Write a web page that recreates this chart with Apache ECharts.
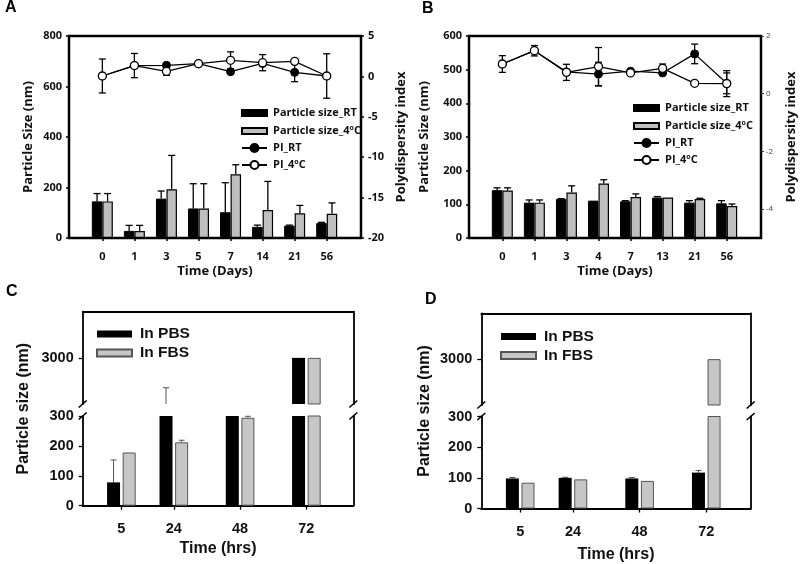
<!DOCTYPE html>
<html><head><meta charset="utf-8">
<script src="https://cdn.jsdelivr.net/npm/echarts@6/dist/echarts.min.js"></script>
<style>html,body{margin:0;padding:0;background:#fff}#c{width:800px;height:564px}</style>
</head><body><div id="c"></div>
<script>
// ---------- data ----------
const daysA = ['0', '1', '3', '5', '7', '14', '21', '56'];
const sizeRtA = [145, 28, 156, 117, 102, 44, 49, 59];
const sizeRtErrA = [31, 22, 30, 98, 117, 7, 2, 3];
const size4cA = [145, 28, 193, 117, 252, 111, 98, 96];
const size4cErrA = [31, 22, 134, 98, 38, 113, 31, 43];
const piRtA = [0.05, 1.34, 1.37, 1.57, 0.59, 1.6, 0.5, 0.05];
const piRtErrA = [0, 0, 0.3, 0, 0, 0, 1.15, 0];
const pi4cA = [0.05, 1.34, 0.63, 1.57, 1.99, 1.7, 1.86, 0.05];
const pi4cErrA = [2.1, 1.5, 0.5, 0, 1.05, 1.0, 0, 2.75];

const daysB = ['0', '1', '3', '4', '7', '13', '21', '56'];
const sizeRtB = [142, 105, 116, 111, 109, 120, 105, 103];
const sizeRtErrB = [7, 8, 1, 0, 2, 3, 6, 8];
const size4cB = [141, 105, 135, 162, 122, 120, 116, 95];
const size4cErrB = [8, 8, 20, 11, 9, 0, 2, 6];
const piRtB = [1.03, 1.49, 0.76, 0.68, 0.78, 0.72, 1.38, 0.36];
const piRtErrB = [0, 0, 0, 0.41, 0, 0, 0.34, 0.36];
const pi4cB = [1.03, 1.49, 0.74, 0.94, 0.72, 0.88, 0.36, 0.35];
const pi4cErrB = [0.29, 0.18, 0.28, 0.66, 0, 0.15, 0, 0.45];

const hours = [5, 24, 48, 72];
const pbsC = [78, 300, 300, 3000];
const pbsErrC = [75, 2053, 0, 0];
const fbsC = [178, 212, 294, 3000];
const fbsErrC = [0, 7, 5, 0];
const pbsD = [98, 100, 98, 117];
const pbsErrD = [3, 2, 3, 7];
const fbsD = [84, 95, 90, 3000];
const fbsErrD = [0, 0, 0, 0];

const ticksAB = [0, 1, 2, 3, 4, 5, 6, 7];

// ---------- styling ----------
const FAB = 'Open Sans';
const FCD = 'Liberation Sans';
const GRAY_AB = '#bfbfbf';
const GRAY_CD = '#c6c6c6';
const BW_AB = 10.5;   // bar width px (A,B)
const BW_CD = 13;     // bar width px (C,D)
const GAP_CD = 0.2;   // barGap fraction (C,D)

function pairs(vals) { return vals.map((v, i) => [i, v]); }
function trip(vals, errs) { return vals.map((v, i) => [i, v, errs[i]]); }
function xPairs(xs, vals) { return vals.map((v, i) => [xs[i], v]); }
function xTrip(xs, vals, errs) { return vals.map((v, i) => [xs[i], v, errs[i]]); }

const EMPTY = () => ({ type: 'group', children: [] });
function errRender(off, capW, color, lw, both, lo, hi) {
  return function (params, api) {
    const x = api.value(0), v = api.value(1), e = api.value(2);
    if (!e) return EMPTY();
    const top = v + e;
    if (top > hi || top < lo) return EMPTY();
    const start = both ? v - e : Math.max(v, lo);
    const pT = api.coord([x, top]);
    const pB = api.coord([x, start]);
    const cx = pT[0] + off;
    const st = { stroke: color, lineWidth: lw };
    const ch = [
      { type: 'line', shape: { x1: cx, y1: pB[1], x2: cx, y2: pT[1] }, style: st },
      { type: 'line', shape: { x1: cx - capW / 2, y1: pT[1], x2: cx + capW / 2, y2: pT[1] }, style: st }
    ];
    if (both) ch.push({ type: 'line', shape: { x1: cx - capW / 2, y1: pB[1], x2: cx + capW / 2, y2: pB[1] }, style: st });
    return { type: 'group', children: ch };
  };
}

function supFmt(name) { return name.replace('4oC', '4{sup|o}C'); }
const supRich = (font, size) => ({ sup: { fontFamily: font, fontWeight: 'bold', fontSize: size, verticalAlign: 'top', padding: [0, 0, 5, 0], color: '#111' } });

function abX(grid, cats) {
  return {
    gridIndex: grid, type: 'value', min: -1.04, max: 8.07,
    axisLine: { show: false, onZero: false }, splitLine: { show: false },
    axisTick: { show: true, customValues: ticksAB, length: 3, lineStyle: { color: '#000', width: 1.5 } },
    axisLabel: { customValues: ticksAB, formatter: v => cats[Math.round(v)], margin: 13, fontFamily: FAB, fontWeight: 'bold', fontSize: 11, color: '#111' },
    name: 'Time (Days)', nameLocation: 'middle', nameGap: 27,
    nameTextStyle: { fontFamily: FAB, fontWeight: 'bold', fontSize: 13, color: '#111' }
  };
}
function abY(grid, pos, min, max, extra) {
  return Object.assign({
    gridIndex: grid, type: 'value', position: pos, min: min, max: max,
    axisLine: { show: false, onZero: false }, splitLine: { show: false },
    axisTick: { show: true, length: 3, lineStyle: { color: '#000', width: 1.5 } },
    axisLabel: { margin: 7, fontFamily: FAB, fontWeight: 'bold', fontSize: 11, color: '#111' },
    nameLocation: 'middle', nameRotate: 90,
    nameTextStyle: { fontFamily: FAB, fontWeight: 'bold', fontSize: 13, color: '#111' }
  }, extra);
}

function abSeries(p, xi, yl, yr, rt, rtE, c4, c4E, piR, piRE, pi4, pi4E, yMax) {
  const lo = 0;
  return [
    { name: 'Particle size_RT', type: 'bar', xAxisIndex: xi, yAxisIndex: yl, data: pairs(rt), barWidth: BW_AB, barGap: '0%', z: 2,
      itemStyle: { color: '#000', borderColor: '#000', borderWidth: 1 } },
    { name: 'Particle size_4oC', type: 'bar', xAxisIndex: xi, yAxisIndex: yl, data: pairs(c4), barWidth: BW_AB, barGap: '0%', z: 2,
      itemStyle: { color: GRAY_AB, borderColor: '#000', borderWidth: 1.2 } },
    { name: p + 'errRt', type: 'custom', xAxisIndex: xi, yAxisIndex: yl, data: trip(rt, rtE), encode: { x: 0, y: 1 }, z: 1,
      renderItem: errRender(-BW_AB / 2, 7, '#000', 1.3, false, lo, yMax) },
    { name: p + 'err4c', type: 'custom', xAxisIndex: xi, yAxisIndex: yl, data: trip(c4, c4E), encode: { x: 0, y: 1 }, z: 1,
      renderItem: errRender(BW_AB / 2, 7, '#000', 1.3, false, lo, yMax) },
    { name: p + 'errPiRt', type: 'custom', xAxisIndex: xi, yAxisIndex: yr, data: trip(piR, piRE), encode: { x: 0, y: 1 }, z: 3,
      renderItem: errRender(0, 7, '#000', 1.3, true, -100, 100) },
    { name: p + 'errPi4c', type: 'custom', xAxisIndex: xi, yAxisIndex: yr, data: trip(pi4, pi4E), encode: { x: 0, y: 1 }, z: 3,
      renderItem: errRender(0, 7, '#000', 1.3, true, -100, 100) },
    { name: 'PI_RT', type: 'line', xAxisIndex: xi, yAxisIndex: yr, data: pairs(piR), symbol: 'circle', symbolSize: 8, z: 4,
      lineStyle: { color: '#000', width: 1.3 }, itemStyle: { color: '#000', borderColor: '#000', borderWidth: 1 } },
    { name: 'PI_4oC', type: 'line', xAxisIndex: xi, yAxisIndex: yr, data: pairs(pi4), symbol: 'circle', symbolSize: 8, z: 5,
      lineStyle: { color: '#000', width: 1.3 }, itemStyle: { color: '#fff', borderColor: '#000', borderWidth: 1.3 } }
  ];
}

function cdAxes(gU, gL, xmin, xmax, nameGap) {
  const line = { show: true, onZero: false, lineStyle: { color: '#000', width: 1.8 } };
  const lbl = { fontFamily: FCD, fontWeight: 'bold', fontSize: 14.5, color: '#111', formatter: v => String(v) };
  const x = [
    { gridIndex: gU, type: 'value', position: 'top', min: xmin, max: xmax, axisLine: line, axisTick: { show: false }, axisLabel: { show: false }, splitLine: { show: false } },
    { gridIndex: gL, type: 'value', position: 'bottom', min: xmin, max: xmax, axisLine: line, splitLine: { show: false },
      axisTick: { show: true, customValues: hours, length: 4, lineStyle: { color: '#000', width: 1.3 } },
      axisLabel: Object.assign({ customValues: hours, margin: 16 }, lbl),
      name: 'Time (hrs)', nameLocation: 'middle', nameGap: nameGap,
      nameTextStyle: { fontFamily: FCD, fontWeight: 'bold', fontSize: 16, color: '#111' } }
  ];
  const y = [
    { gridIndex: gU, type: 'value', position: 'left', min: 2000, max: 4000, axisLine: line, splitLine: { show: false },
      axisTick: { show: true, customValues: [3000], length: 4, lineStyle: { color: '#000', width: 1.3 } },
      axisLabel: Object.assign({ customValues: [3000], margin: 9 }, lbl) },
    { gridIndex: gU, type: 'value', position: 'right', min: 0, max: 1, axisLine: line, axisTick: { show: false }, axisLabel: { show: false }, splitLine: { show: false } },
    { gridIndex: gL, type: 'value', position: 'left', min: 0, max: 300, interval: 100, axisLine: line, splitLine: { show: false },
      axisTick: { show: true, length: 4, lineStyle: { color: '#000', width: 1.3 } },
      axisLabel: Object.assign({ margin: 9 }, lbl) },
    { gridIndex: gL, type: 'value', position: 'right', min: 0, max: 1, axisLine: line, axisTick: { show: false }, axisLabel: { show: false }, splitLine: { show: false } }
  ];
  return { x, y };
}

function cdSeries(p, xU, yU, xL, yL, pbs, pbsE, fbs, fbsE) {
  const total = BW_CD * (2 + GAP_CD);
  const offP = -total / 2 + BW_CD / 2, offF = total / 2 - BW_CD / 2;
  const out = [];
  [[xU, yU, 2000, 4000], [xL, yL, 0, 300]].forEach(([xi, yi, lo, hi], k) => {
    out.push(
      { name: 'In PBS', type: 'bar', xAxisIndex: xi, yAxisIndex: yi, data: xPairs(hours, pbs), barWidth: BW_CD, barGap: (GAP_CD * 100) + '%', clip: true, z: 2,
        itemStyle: { color: '#000', borderColor: '#000', borderWidth: 0 } },
      { name: 'In FBS', type: 'bar', xAxisIndex: xi, yAxisIndex: yi, data: xPairs(hours, fbs), barWidth: BW_CD, barGap: (GAP_CD * 100) + '%', clip: true, z: 2,
        itemStyle: { color: GRAY_CD, borderColor: '#555', borderWidth: 1 } },
      { name: p + 'eP' + k, type: 'custom', xAxisIndex: xi, yAxisIndex: yi, data: xTrip(hours, pbs, pbsE), encode: { x: 0, y: 1 }, z: 1,
        renderItem: errRender(offP, 6, '#555', 1, false, lo, hi) },
      { name: p + 'eF' + k, type: 'custom', xAxisIndex: xi, yAxisIndex: yi, data: xTrip(hours, fbs, fbsE), encode: { x: 0, y: 1 }, z: 1,
        renderItem: errRender(offF, 6, '#555', 1, false, lo, hi) }
    );
  });
  return out;
}

const cAx = cdAxes(2, 3, -9, 89, 35);
const dAx = cdAxes(4, 5, -9, 88, 38);

const letter = (t, l, tp) => ({ text: t, left: l, top: tp, padding: 0, textStyle: { fontFamily: FCD, fontWeight: 'bold', fontSize: 16, color: '#000' } });

const legAB = (left, top, names, ih, gap) => ({
  orient: 'vertical', left: left, top: top, padding: 0, data: names, itemWidth: 25, itemHeight: ih, itemGap: gap, icon: names[0].startsWith('PI') ? undefined : 'rect',
  selectedMode: false, formatter: supFmt,
  textStyle: { fontFamily: FAB, fontWeight: 'bold', fontSize: 11, color: '#111', lineHeight: 14, padding: [0, 0, 0, 1], rich: supRich(FAB, 7) }
});
const legCD = (left, top) => ({
  orient: 'vertical', left: left, top: top, padding: 0, data: ['In PBS', 'In FBS'], itemWidth: 35, itemHeight: 7, itemGap: 1, icon: 'rect',
  selectedMode: false,
  textStyle: { fontFamily: FCD, fontWeight: 'bold', fontSize: 15.5, color: '#111', lineHeight: 18, padding: [0, 0, 0, 3] }
});

const option = {
  animation: false,
  backgroundColor: '#fff',
  title: [letter('A', 5, 0), letter('B', 422, 1), letter('C', 6, 284), letter('D', 425, 292)],
  grid: [
    { left: 69, top: 36, width: 292, height: 202, show: true, borderColor: '#000', borderWidth: 2.5, backgroundColor: 'transparent' },
    { left: 469, top: 36, width: 292, height: 202, show: true, borderColor: '#000', borderWidth: 2.5, backgroundColor: 'transparent' },
    { left: 82.7, top: 311.7, width: 270.6, height: 92.3 },
    { left: 82.7, top: 416, width: 270.6, height: 89.7 },
    { left: 481.3, top: 313.3, width: 269.4, height: 91.7 },
    { left: 481.3, top: 416.5, width: 269.4, height: 92 }
  ],
  xAxis: [abX(0, daysA), abX(1, daysB)].concat(cAx.x, dAx.x),
  yAxis: [
    abY(0, 'left', 0, 800, { interval: 200, name: 'Particle Size (nm)', nameGap: 34 }),
    abY(0, 'right', -20, 5, { interval: 5, name: 'Polydispersity index', nameGap: 34 }),
    abY(1, 'left', 0, 600, { interval: 100, name: 'Particle Size (nm)', nameGap: 38 }),
    abY(1, 'right', -5, 2, {
      name: 'Polydispersity index', nameGap: 24,
      axisTick: { show: true, customValues: [-4, -2, 0, 2], length: 3, lineStyle: { color: '#333', width: 1 } },
      axisLabel: { customValues: [-4, -2, 0, 2], margin: 5, fontFamily: FAB, fontSize: 8, color: '#444' }
    })
  ].concat(cAx.y, dAx.y),
  legend: [
    legAB(241, 106, ['Particle size_RT', 'Particle size_4oC'], 6, 4),
    legAB(241, 141, ['PI_RT', 'PI_4oC'], 10, 3),
    legAB(633, 101, ['Particle size_RT', 'Particle size_4oC'], 6, 4),
    legAB(633, 136, ['PI_RT', 'PI_4oC'], 10, 3),
    legCD(96, 325),
    legCD(500, 327.5)
  ],
  series: [].concat(
    abSeries('A', 0, 0, 1, sizeRtA, sizeRtErrA, size4cA, size4cErrA, piRtA, piRtErrA, pi4cA, pi4cErrA, 800),
    abSeries('B', 1, 2, 3, sizeRtB, sizeRtErrB, size4cB, size4cErrB, piRtB, piRtErrB, pi4cB, pi4cErrB, 600),
    cdSeries('C', 2, 4, 3, 6, pbsC, pbsErrC, fbsC, fbsErrC),
    cdSeries('D', 4, 8, 5, 10, pbsD, pbsErrD, fbsD, fbsErrD)
  )
};

const chart = echarts.init(document.getElementById('c'));
chart.setOption(option);

// axis-break marks and rotated y titles for C and D, positioned from the axes
function breakMarks(xU, yU, xL, yL, xmin, xmax) {
  const els = [];
  [xmin, xmax].forEach(xv => {
    const a = chart.convertToPixel({ xAxisIndex: xU, yAxisIndex: yU }, [xv, 2000]);
    const b = chart.convertToPixel({ xAxisIndex: xL, yAxisIndex: yL }, [xv, 300]);
    [a, b].forEach(p => {
      els.push({ type: 'line', shape: { x1: p[0] - 4, y1: p[1] + 3.5, x2: p[0] + 4, y2: p[1] - 3.5 }, style: { stroke: '#000', lineWidth: 1.6 } });
    });
  });
  return els;
}
function yTitle(xU, yU, xL, yL, xmin, dx) {
  const a = chart.convertToPixel({ xAxisIndex: xU, yAxisIndex: yU }, [xmin, 4000]);
  const b = chart.convertToPixel({ xAxisIndex: xL, yAxisIndex: yL }, [xmin, 0]);
  return { type: 'text', x: a[0] - dx, y: (a[1] + b[1]) / 2, rotation: Math.PI / 2,
    style: { text: 'Particle size (nm)', font: 'bold 16px "Liberation Sans"', fill: '#111', align: 'center', verticalAlign: 'middle' } };
}
chart.setOption({
  graphic: [].concat(
    breakMarks(2, 4, 3, 6, -9, 89),
    breakMarks(4, 8, 5, 10, -9, 88),
    [yTitle(2, 4, 3, 6, -9, 59), yTitle(4, 8, 5, 10, -9, 57)]
  )
});
</script></body></html>
